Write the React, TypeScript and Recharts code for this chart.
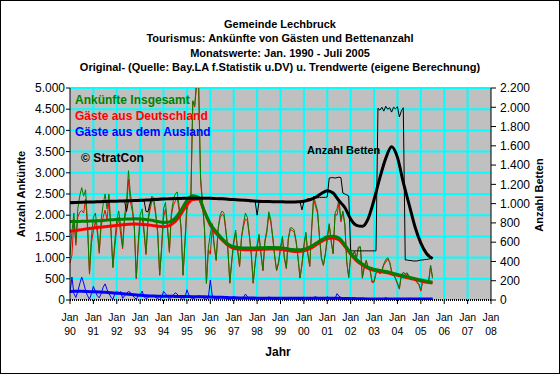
import { CartesianGrid, ComposedChart, Line, XAxis, YAxis } from "recharts";

const FONT = '"Liberation Sans", Arial, sans-serif';

// monthly values Jan 1990 .. Jul 2005
const ankuenfteGesamt = [
  1050, 1600, 2050, 1350, 2150, 2450, 2650, 2450, 2600, 1800, 630, 1500, // 1990
  1950, 2050, 1700, 1150, 1900, 2250, 2500, 2150, 2500, 1700, 780, 1400, // 1991
  1900, 2100, 1750, 1250, 2000, 2300, 3050, 2500, 2200, 1750, 520, 1350, // 1992
  2000, 2150, 1650, 1100, 1900, 2200, 2450, 2400, 2050, 1600, 590, 1250, // 1993
  2150, 2300, 1750, 1150, 2050, 2350, 2500, 2550, 2200, 1700, 590, 1400, // 1994
  2350, 2450, 2400, 4700, 4600, 5200, 5100, 2900, 2300, 1700, 400, 1250, // 1995
  1550, 1800, 1300, 950, 1700, 2000, 2100, 2050, 1650, 1200, 400, 950, // 1996
  1400, 1650, 1200, 800, 1500, 1800, 2050, 1950, 1550, 1100, 400, 900, // 1997
  1300, 1550, 1100, 700, 1400, 1650, 2080, 1900, 1500, 1050, 700, 900, // 1998
  1250, 1500, 1000, 750, 1450, 1700, 1700, 1650, 1400, 1000, 520, 850, // 1999
  1300, 1600, 1100, 800, 1700, 2450, 2280, 2100, 1500, 1000, 820, 1100, // 2000
  1500, 1800, 1400, 1100, 2050, 2150, 2380, 1900, 2100, 1800, 900, 550, // 2001
  1050, 1100, 1150, 1000, 1250, 1260, 550, 800, 940, 760, 700, 430, // 2002
  450, 650, 680, 620, 700, 850, 950, 1000, 900, 680, 600, 520, // 2003
  400, 280, 600, 650, 620, 640, 560, 520, 510, 500, 420, 380, // 2004
  240, 470, 420, 430, 440, 820, 550, // 2005
];

const gaesteDeutschland = [
  880, 1060, 1900, 1290, 1950, 2070, 2110, 2050, 2380, 1700, 610, 1350,
  1630, 1850, 1600, 1100, 1750, 1950, 2120, 1900, 2350, 1630, 760, 1260,
  1700, 1950, 1550, 1210, 1900, 2140, 2850, 2320, 2090, 1690, 500, 1250,
  1880, 1940, 1570, 1070, 1840, 2110, 2340, 2300, 1990, 1570, 580, 1190,
  1950, 2150, 1680, 1120, 1990, 2230, 2330, 2410, 2120, 1670, 580, 1340,
  2110, 2330, 2340, 4680, 4550, 5120, 5000, 2810, 2240, 1670, 390, 1190,
  1080, 1710, 1260, 930, 1670, 1940, 2020, 1980, 1610, 1180, 395, 900,
  1320, 1590, 1170, 785, 1460, 1740, 1910, 1870, 1510, 1080, 395, 860,
  1240, 1500, 1080, 690, 1370, 1600, 2010, 1840, 1470, 1035, 695, 860,
  1200, 1460, 980, 740, 1425, 1660, 1640, 1600, 1370, 985, 515, 820,
  1230, 1565, 1080, 790, 1670, 2390, 2200, 2050, 1475, 985, 815, 1070,
  1420, 1765, 1380, 1090, 2020, 2000, 2290, 1840, 2070, 1785, 895, 520,
  1010, 1070, 1135, 992, 1230, 1230, 510, 765, 920, 750, 695, 410,
  420, 630, 670, 615, 685, 825, 890, 970, 885, 670, 595, 500,
  370, 255, 585, 645, 605, 615, 520, 485, 490, 490, 415, 360,
  210, 445, 405, 420, 420, 790, 510,
];

const gaesteAusland = [
  170, 540, 150, 60, 200, 380, 540, 400, 220, 100, 20, 150,
  320, 200, 100, 50, 150, 300, 380, 250, 150, 70, 20, 140,
  200, 150, 200, 40, 100, 160, 200, 180, 110, 60, 20, 100,
  120, 210, 80, 30, 60, 90, 110, 100, 60, 30, 10, 60,
  200, 150, 70, 30, 60, 120, 170, 140, 80, 30, 10, 60,
  240, 120, 60, 20, 50, 80, 100, 90, 60, 30, 10, 60,
  470, 90, 40, 20, 30, 60, 80, 70, 40, 20, 5, 50,
  80, 60, 30, 15, 40, 60, 140, 80, 40, 20, 5, 40,
  60, 50, 20, 10, 30, 50, 70, 60, 30, 15, 5, 40,
  50, 40, 20, 10, 25, 40, 60, 50, 30, 15, 5, 30,
  70, 35, 20, 10, 30, 60, 80, 50, 25, 15, 5, 30,
  80, 35, 20, 10, 30, 150, 90, 60, 30, 15, 5, 30,
  40, 30, 15, 8, 20, 30, 40, 35, 20, 10, 5, 20,
  30, 20, 10, 5, 15, 25, 60, 30, 15, 10, 5, 20,
  30, 25, 15, 5, 15, 25, 40, 35, 20, 10, 5, 20,
  30, 25, 15, 10, 20, 30, 40,
];

const betten = [
  1010, 1020, 1020, 1020, 1020, 1020, 1020, 1020, 1020, 1020, 1010, 1020,
  1020, 1020, 1020, 1020, 1020, 1030, 1030, 1030, 1030, 1030, 1030, 1030,
  1030, 1030, 1030, 1030, 1030, 920, 1030, 1030, 1030, 1030, 1030, 1030,
  1030, 1030, 1030, 920, 915, 1000, 1055, 1055, 1055, 1055, 1055, 1055,
  1055, 1055, 1050, 1050, 1055, 1060, 1060, 1060, 1055, 1055, 1050, 1050,
  1055, 1055, 1055, 1060, 1060, 1060, 1060, 1060, 1055, 1055, 1055, 1055,
  1055, 1055, 1050, 1050, 1055, 1055, 1055, 1055, 1050, 1050, 1050, 1050,
  1040, 1040, 1035, 1035, 1035, 1035, 1030, 1030, 1020, 1020, 1020, 1020,
  880, 1020, 1020, 1020, 1020, 1020, 1020, 1020, 1020, 1020, 1020, 1020,
  1020, 1020, 1020, 1020, 1020, 1020, 1020, 1020, 1020, 1020, 1020, 935,
  1020, 1040, 1050, 1050, 1040, 1060, 1060, 1060, 1065, 1065, 1065, 1065,
  1070, 1265, 1270, 1270, 1265, 1270, 1275, 1270, 1110, 1100, 1090, 1080,
  510, 510, 510, 510, 510, 510, 510, 510, 510, 510, 510, 510,
  510, 510, 1990, 1970, 2000, 1960, 2010, 1980, 1995, 1950, 2000, 1985,
  2005, 1900, 1960, 1995, 415, 415, 410, 410, 405, 405, 405, 410,
  415, 415, 420, 420, 425, 430, 430,
];

// trend values, quarterly Jan 1990 .. Jul 2005
const trendGesamt = [
  1850, 1850, 1855, 1860, 1865, 1870, 1880, 1890, 1900, 1905, 1910, 1915,
  1910, 1900, 1880, 1850, 1830, 1840, 1930, 2120, 2350, 2460, 2420, 2090,
  1800, 1610, 1450, 1320, 1255, 1235, 1225, 1225, 1230, 1235, 1240, 1240,
  1235, 1215, 1190, 1185, 1200, 1250, 1330, 1420, 1490, 1505, 1460, 1300,
  1110, 960, 850, 770, 725, 695, 670, 640, 605, 570, 540, 505, 470, 445, 420,
];

const trendDeutschland = [
  1620, 1640, 1660, 1680, 1700, 1715, 1730, 1745, 1760, 1775, 1785, 1790,
  1785, 1775, 1760, 1740, 1730, 1755, 1850, 2030, 2250, 2370, 2380, 2080,
  1770, 1570, 1420, 1290, 1220, 1195, 1185, 1185, 1190, 1195, 1200, 1200,
  1195, 1175, 1150, 1145, 1160, 1210, 1290, 1380, 1450, 1465, 1420, 1265,
  1080, 930, 825, 745, 700, 670, 645, 615, 580, 545, 515, 480, 445, 420, 400,
];

const trendAusland = [
  200, 205, 205, 200, 195, 190, 180, 170, 160, 150, 138, 125,
  110, 100, 95, 90, 90, 88, 85, 82, 80, 78, 76, 74,
  70, 66, 62, 57, 52, 48, 46, 45, 44, 43, 42, 41,
  40, 40, 40, 40, 40, 41, 42, 42, 42, 42, 40, 37,
  34, 31, 28, 26, 25, 24, 24, 24, 24, 24, 23, 23, 23, 23, 22,
];

const trendBetten = [
  1010, 1012, 1014, 1016, 1018, 1020, 1022, 1024, 1026, 1028, 1030, 1032,
  1034, 1037, 1040, 1044, 1048, 1050, 1052, 1054, 1056, 1057, 1057, 1056,
  1055, 1052, 1050, 1046, 1042, 1038, 1034, 1030, 1026, 1023, 1021, 1020,
  1019, 1018, 1018, 1020, 1025, 1040, 1066, 1105, 1134, 1110, 1030, 960,
  840, 775, 765, 845, 1040, 1270, 1470, 1590, 1480, 1220, 990, 760, 590, 480, 430,
];

const yearTicks = [
  1990, 1991, 1992, 1993, 1994, 1995, 1996, 1997, 1998, 1999,
  2000, 2001, 2002, 2003, 2004, 2005, 2006, 2007, 2008,
];
const yearLabels = [
  "90", "91", "92", "93", "94", "95", "96", "97", "98", "99",
  "00", "01", "02", "03", "04", "05", "06", "07", "08",
];
const leftTicks = [0, 500, 1000, 1500, 2000, 2500, 3000, 3500, 4000, 4500, 5000];
const rightTicks = [0, 200, 400, 600, 800, 1000, 1200, 1400, 1600, 1800, 2000, 2200];

const monthly = (vals: number[]) => vals.map((v, i) => ({ t: 1990 + i / 12, v }));
const quarterly = (vals: number[]) => vals.map((v, i) => ({ t: 1990 + i / 4, v }));

const fmt = (v: number) =>
  v >= 1000 ? `${Math.floor(v / 1000)}.${String(v % 1000).padStart(3, "0")}` : String(v);

const XTick = (props: any) => {
  const { x, y, payload } = props;
  const idx = yearTicks.indexOf(payload.value);
  return (
    <g fontFamily={FONT} fontSize={10.5} fill="#000" textAnchor="middle">
      <text x={x} y={y + 14.5}>Jan</text>
      <text x={x} y={y + 28.5}>{yearLabels[idx]}</text>
    </g>
  );
};

const thin = { dot: false, activeDot: false, isAnimationActive: false, strokeWidth: 1 } as const;
const thick = { dot: false, activeDot: false, isAnimationActive: false, strokeWidth: 3 } as const;

export default function App() {
  return (
    <div style={{ position: "fixed", left: 0, top: 0, width: 560, height: 374, background: "#fff" }}>
      <ComposedChart width={560} height={374} margin={{ top: 88, right: 19, bottom: 34, left: 20 }}>
        <CartesianGrid
          yAxisId="left"
          fill="#C0C0C0"
          fillOpacity={1}
          stroke="#00FFFF"
          strokeWidth={2}
          horizontalValues={leftTicks.slice(1)}
          verticalValues={yearTicks.slice(1, -1)}
        />
        <XAxis
          type="number"
          dataKey="t"
          domain={[1990, 2008]}
          ticks={yearTicks}
          interval={0}
          height={40}
          tickSize={4}
          tickMargin={2}
          tick={<XTick />}
          axisLine={{ stroke: "#000", strokeWidth: 2, strokeDasharray: "1 1" }}
          tickLine={{ stroke: "#000" }}
        />
        <YAxis
          yAxisId="left"
          domain={[0, 5000]}
          ticks={leftTicks}
          interval={0}
          allowDataOverflow
          width={50}
          tickSize={4}
          tickMargin={1}
          tickFormatter={fmt}
          tick={{ fill: "#000", fontSize: 12, fontFamily: FONT }}
          axisLine={{ stroke: "#000" }}
          tickLine={{ stroke: "#000" }}
        />
        <YAxis
          yAxisId="right"
          orientation="right"
          domain={[0, 2200]}
          ticks={rightTicks}
          interval={0}
          allowDataOverflow
          width={50}
          tickSize={5}
          tickMargin={4}
          tickFormatter={fmt}
          tick={{ fill: "#000", fontSize: 12, fontFamily: FONT, textAnchor: "start" }}
          axisLine={{ stroke: "#000" }}
          tickLine={{ stroke: "#000" }}
        />

        <Line yAxisId="left" data={monthly(gaesteDeutschland)} dataKey="v" stroke="#FF0000" {...thin} />
        <Line yAxisId="left" data={monthly(ankuenfteGesamt)} dataKey="v" stroke="#008000" {...thin} />
        <Line yAxisId="left" data={monthly(gaesteAusland)} dataKey="v" stroke="#0000FF" {...thin} />
        <Line yAxisId="right" data={monthly(betten)} dataKey="v" stroke="#000" {...thin} />
        <Line yAxisId="left" type="monotone" data={quarterly(trendDeutschland)} dataKey="v" stroke="#FF0000" {...thick} />
        <Line yAxisId="left" type="monotone" data={quarterly(trendGesamt)} dataKey="v" stroke="#008000" {...thick} />
        <Line yAxisId="left" type="monotone" data={quarterly(trendAusland)} dataKey="v" stroke="#0000FF" {...thick} />
        <Line yAxisId="right" type="monotone" data={quarterly(trendBetten)} dataKey="v" stroke="#000" {...thick} />
      </ComposedChart>

      <svg
        width={560}
        height={374}
        style={{ position: "absolute", left: 0, top: 0, pointerEvents: "none" }}
        fontFamily={FONT}
      >
        <rect x={0.5} y={0.5} width={559} height={373} fill="none" stroke="#000" />
        <g fontSize={11} fontWeight="bold" textAnchor="middle" fill="#000">
          <text x={280} y={28}>Gemeinde Lechbruck</text>
          <text x={280} y={42}>Tourismus: Ankünfte von Gästen und Bettenanzahl</text>
          <text x={280} y={56.5}>Monatswerte: Jan. 1990 - Juli 2005</text>
          <text x={280} y={71}>Original- (Quelle: Bay.LA f.Statistik u.DV) u. Trendwerte (eigene Berechnung)</text>
        </g>
        <g fontSize={12} fontWeight="bold">
          <text x={75} y={103.5} fill="#008000">Ankünfte Insgesamt</text>
          <text x={75} y={120} fill="#FF0000">Gäste aus Deutschland</text>
          <text x={75} y={136} fill="#0000FF">Gäste aus dem Ausland</text>
          <text x={81} y={161.5} fill="#000">© StratCon</text>
        </g>
        <text x={307} y={154} fontSize={11} fontWeight="bold" fill="#000">Anzahl Betten</text>
        <text x={25} y={194} fontSize={11} fontWeight="bold" textAnchor="middle" transform="rotate(-90 25 194)">
          Anzahl Ankünfte
        </text>
        <text x={543} y={195} fontSize={11} fontWeight="bold" textAnchor="middle" transform="rotate(-90 543 195)">
          Anzahl Betten
        </text>
        <text x={278} y={356} fontSize={12} fontWeight="bold" textAnchor="middle">Jahr</text>
      </svg>
    </div>
  );
}
